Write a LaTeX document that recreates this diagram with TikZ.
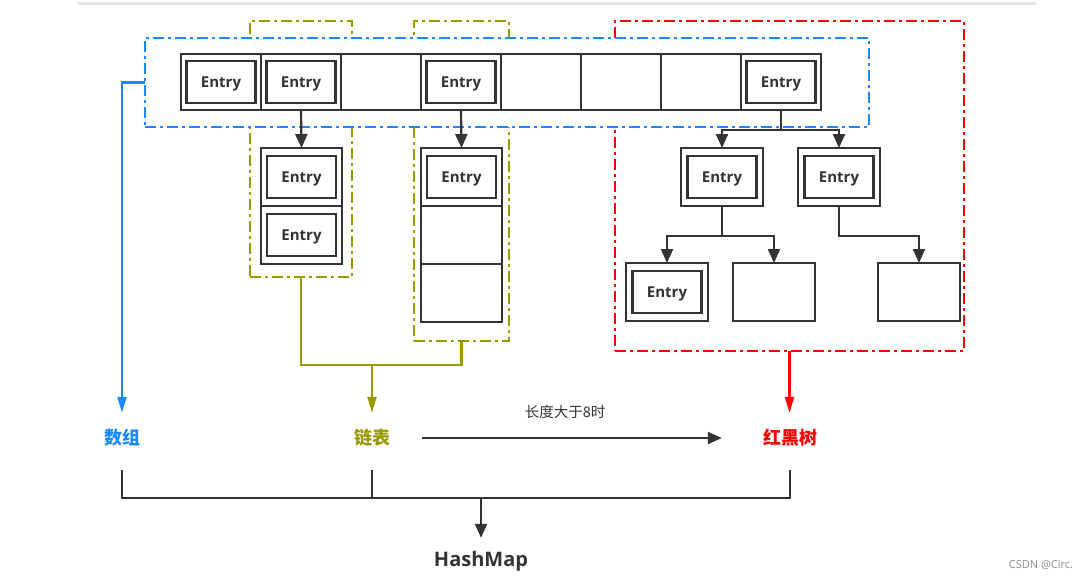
\documentclass[tikz,border=0pt]{standalone}
\usepackage{fontspec}
\setmainfont{Open Sans}
\newfontfamily\cjk{Noto Sans CJK SC}
\usetikzlibrary{arrows.meta,positioning}
\definecolor{linegray}{HTML}{333333}
\definecolor{hmblue}{HTML}{1A88FF}
\definecolor{hmolive}{HTML}{999900}
\definecolor{hmred}{HTML}{FF0000}
\tikzset{
	cell/.style={draw=linegray, line width=2.2pt, fill=white, minimum width=80pt, minimum height=56pt, inner sep=0pt, outer sep=0pt},
	listbox/.style={cell, minimum width=81pt, minimum height=58pt},
	entrybox/.style={draw=linegray, line width=2.6pt, minimum width=69pt, minimum height=42pt, inner sep=0pt, text depth=0pt, text=linegray, font=\bfseries\fontsize{15}{15}\selectfont},
	dashframe/.style={line width=2.2pt, dash pattern=on 11pt off 4pt on 3pt off 4pt, inner sep=0pt, outer sep=0pt},
	link/.style={draw=linegray, line width=2.2pt},
	headed/.style={-{Triangle[length=14pt,width=12pt]}},
	thinhead/.style={-{Triangle[length=16pt,width=9pt]}},
	hmlabel/.style={font=\cjk\bfseries\fontsize{18}{18}\selectfont, minimum width=100pt, minimum height=50pt, inner sep=0pt},
}
\begin{document}
\begin{tikzpicture}[x=1pt,y=-1pt]
	\useasboundingbox (0,0) rectangle (1088,579);
	\draw[black!10, line width=3pt] (78,3) -- (1036,3);
%	% Frames round the parts
	\node[dashframe, draw=hmolive, minimum width=102pt, minimum height=256pt] (lk1) at (301,149) {};
	\node[dashframe, draw=hmolive, minimum width=95pt, minimum height=320pt] (lk2) at (461.5,181) {};
	\node[dashframe, draw=hmred, minimum width=349pt, minimum height=330pt] (rb) at (789.5,186) {};
	\node[dashframe, draw=hmblue, fill=white, minimum width=724pt, minimum height=89pt] (arr) at (507,82.5) {};
%	% Array
	\foreach \i in {1,...,8}
		\node[cell] (c\i) at (141+80*\i,82) {};
	\foreach \i in {1,2,4,8}
		\node[entrybox] at (c\i) {Entry};
%	% Linked lists
	\node[listbox] (l11) at (301.5,177) {};
	\node[listbox, below=0pt of l11] (l12) {};
	\node[listbox] (l21) at (461.5,177) {};
	\node[listbox, below=0pt of l21] (l22) {};
	\node[listbox, below=0pt of l22] (l23) {};
	\node[entrybox] at (l11) {Entry};
	\node[entrybox] at (l12) {Entry};
	\node[entrybox] at (l21) {Entry};
	\draw[link, headed] (c2.south) -- (l11.north);
	\draw[link, headed] (c4.south) -- (l21.north);
%	% Red-black tree
	\node[listbox, minimum width=82pt] (ta) at (722,177) {};
	\node[listbox, minimum width=82pt] (tb) at (839,177) {};
	\node[listbox, minimum width=82pt] (tc) at (667,292) {};
	\node[listbox, minimum width=82pt] (td) at (774,292) {};
	\node[listbox, minimum width=82pt] (te) at (919,292) {};
	\node[entrybox] at (ta) {Entry};
	\node[entrybox] at (tb) {Entry};
	\node[entrybox] at (tc) {Entry};
	\draw[link] (c8.south) -- ++(0,20) coordinate (t0);
	\draw[link, headed] (t0) -| (ta.north);
	\draw[link, headed] (t0) -| (tb.north);
	\draw[link] (ta.south) -- ++(0,30) coordinate (t1);
	\draw[link, headed] (t1) -| (tc.north);
	\draw[link, headed] (t1) -| (td.north);
	\draw[link, headed] (tb.south) -- ++(0,30) -| (te.north);
%	% Names
	\node[hmlabel, text=hmblue] (shuzu) at (122,438) {数组};
	\node[hmlabel, text=hmolive] (lianbiao) at (372,438) {链表};
	\node[hmlabel, text=hmred] (hhs) at (790,438) {红黑树};
	\node[font=\bfseries\fontsize{20}{20}\selectfont, text=linegray, minimum height=46pt, inner sep=0pt] (hashmap) at (481,561) {HashMap};
	\draw[hmblue, line width=2.2pt, thinhead] (arr.west) -| (shuzu.north);
	\draw[hmolive, line width=2.2pt] (lk1.south) -- ++(0,88) coordinate (j0) -| (lk2.south);
	\draw[hmolive, line width=2.2pt, thinhead] (j0 -| lianbiao.north) -- (lianbiao.north);
	\draw[hmred, line width=2.2pt, thinhead] (rb.south) -- (rb.south |- hhs.north);
	\draw[link, headed, shorten >=18pt] (lianbiao.east) -- node[pos=0.45, above=15pt, text=linegray, font=\cjk\fontsize{14.5}{14.5}\selectfont] (cond) {长度大于8时} (hhs.west);
%	% Into HashMap
	\draw[link, shorten <=7pt, shorten >=7pt] (shuzu.south) -- ++(0,35) coordinate (j1) -| (hhs.south);
	\draw[link, shorten <=7pt] (lianbiao.south) -- (lianbiao.south |- j1);
	\draw[link, headed] (j1 -| hashmap.north) -- (hashmap.north);
	\node[text=black!45, font=\fontsize{11}{11}\selectfont] (mark) at (1041,565) {CSDN @Circ.};
\end{tikzpicture}
\end{document}
